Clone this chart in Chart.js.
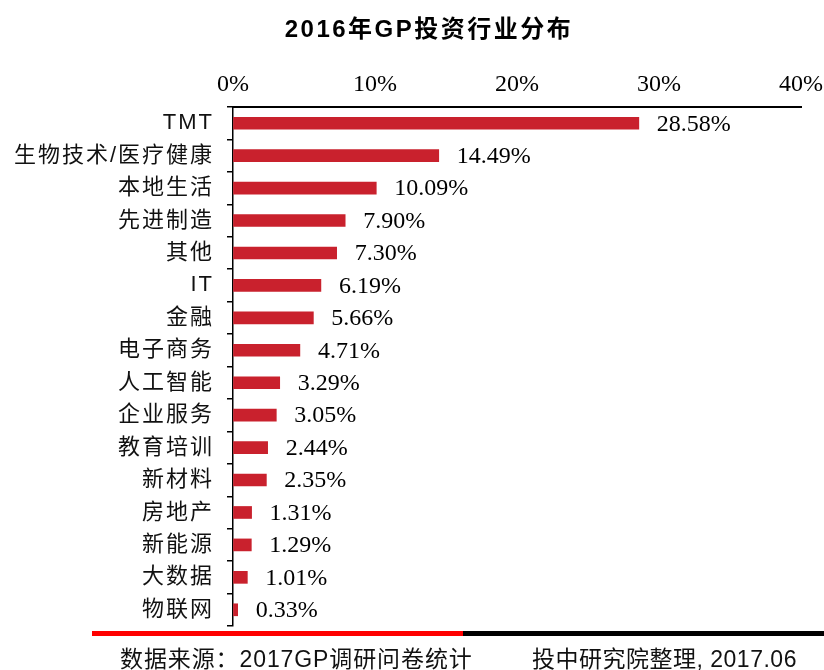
<!DOCTYPE html>
<html>
<head>
<meta charset="utf-8">
<script src="https://cdn.jsdelivr.net/npm/chart.js@4"></script>
<style>
html,body{margin:0;padding:0;background:#fff;}
#wrap{width:824px;height:670px;position:relative;}
</style>
</head>
<body>
<div id="wrap"><canvas id="c" width="824" height="670"></canvas></div>
<script>
const title = '2016年GP投资行业分布';
const categories = ['TMT','生物技术/医疗健康','本地生活','先进制造','其他','IT','金融','电子商务','人工智能','企业服务','教育培训','新材料','房地产','新能源','大数据','物联网'];
const shares = [28.58,14.49,10.09,7.90,7.30,6.19,5.66,4.71,3.29,3.05,2.44,2.35,1.31,1.29,1.01,0.33];
const xTicks = [0,10,20,30,40];
const sourceLeft = '数据来源：2017GP调研问卷统计';
const sourceRight = '投中研究院整理, 2017.06';

const SANS = '"Liberation Sans","Noto Sans CJK SC",sans-serif';
const SERIF = '"Liberation Serif","Noto Serif CJK SC",serif';

const valueLabels = {
  id:'valueLabels',
  afterDatasetsDraw(chart){
    const ctx = chart.ctx;
    const meta = chart.getDatasetMeta(0);
    ctx.save();
    ctx.font = '24px ' + SERIF;
    ctx.fillStyle = '#000';
    ctx.textAlign = 'left';
    ctx.textBaseline = 'middle';
    meta.data.forEach((bar,i)=>{
      ctx.fillText(shares[i].toFixed(2)+'%', bar.x + 18, bar.y + 1);
    });
    ctx.restore();
  }
};

const spacedLabels = {
  id:'spacedLabels',
  afterLayout(chart){
    const ys = chart.scales.y;
    if (ys && !ys._spacedPatched) {
      const orig = ys.drawLabels;
      ys.drawLabels = function(area){
        const ctx = this.ctx;
        ctx.save();
        ctx.letterSpacing = '2px';
        orig.call(this, area);
        ctx.restore();
      };
      ys._spacedPatched = true;
    }
  }
};

const decorations = {
  id:'decorations',
  afterDraw(chart){
    const ctx = chart.ctx;
    ctx.save();
    // title
    ctx.font = 'bold 24px ' + SANS;
    ctx.fillStyle = '#000';
    ctx.textAlign = 'center';
    ctx.textBaseline = 'middle';
    ctx.letterSpacing = '2.5px';
    ctx.fillText(title, 429, 30);
    // bottom rule
    ctx.fillStyle = '#ff0000';
    ctx.fillRect(92, 631, 371, 5);
    ctx.fillStyle = '#000';
    ctx.fillRect(463, 631, 361, 5);
    // source
    ctx.font = '23px ' + SANS;
    ctx.fillStyle = '#111';
    ctx.textBaseline = 'alphabetic';
    ctx.textAlign = 'left';
    ctx.letterSpacing = '0.9px';
    ctx.fillText(sourceLeft, 120, 667);
    ctx.letterSpacing = '0.5px';
    ctx.fillText(sourceRight, 532, 667);
    ctx.restore();
  }
};

new Chart(document.getElementById('c'), {
  type:'bar',
  data:{
    labels:categories,
    datasets:[{
      data:shares,
      backgroundColor:'#C9212D',
      borderWidth:0,
      barThickness:12
    }]
  },
  options:{
    indexAxis:'y',
    responsive:false,
    animation:false,
    layout:{padding:{left:0,right:23,top:57,bottom:44}},
    plugins:{
      legend:{display:false},
      tooltip:{enabled:false},
      title:{display:false}
    },
    scales:{
      x:{
        position:'top',
        min:0,
        max:40,
        afterBuildTicks(scale){ scale.ticks = xTicks.map(v=>({value:v})); },
        afterFit(scale){ scale.height = 50; scale.paddingLeft = 0; scale.paddingRight = 0; },
        ticks:{
          callback:(v)=>v+'%',
          font:{family:SERIF,size:24},
          color:'#000',
          padding:8,
          maxRotation:0
        },
        grid:{display:true,drawOnChartArea:false,drawTicks:false},
        border:{display:true,color:'#000',width:2}
      },
      y:{
        afterFit(scale){ scale.width = 233; scale.paddingTop = 0; scale.paddingBottom = 0; },
        ticks:{
          font:{family:SANS,size:22},
          color:'#111',
          padding:13,
          autoSkip:false
        },
        grid:{display:true,drawOnChartArea:false,drawTicks:true,tickLength:6,color:'#000',offset:true,lineWidth:1.5},
        border:{display:true,color:'#000',width:1.5}
      }
    }
  },
  plugins:[spacedLabels,valueLabels,decorations]
});
</script>
</body>
</html>
